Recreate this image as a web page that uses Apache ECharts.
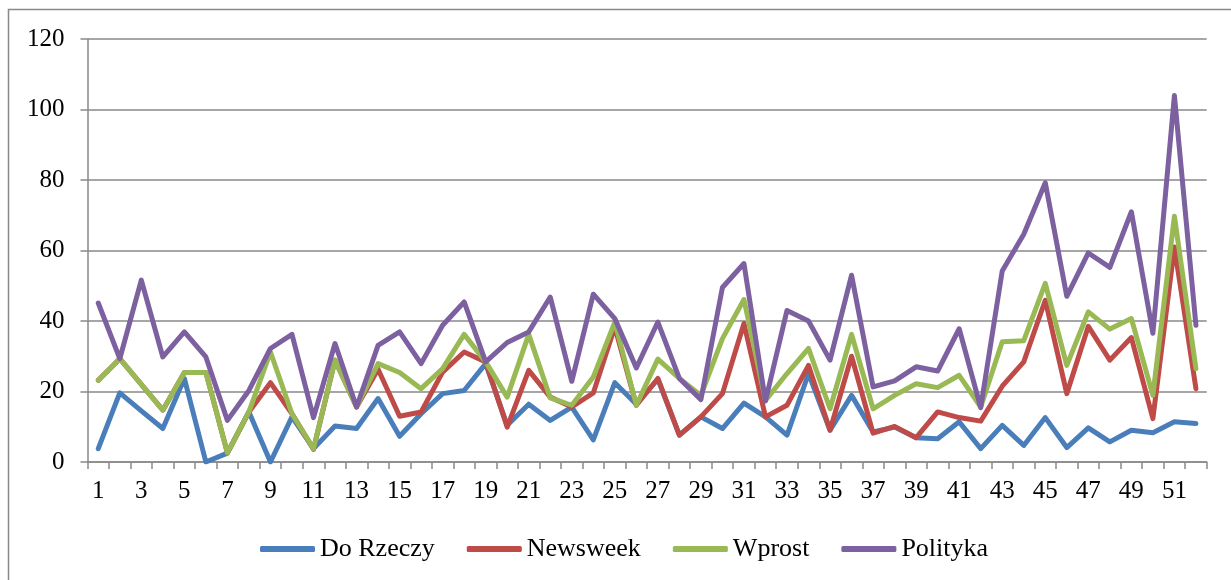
<!DOCTYPE html>
<html>
<head>
<meta charset="utf-8">
<script src="https://cdn.jsdelivr.net/npm/echarts@6/dist/echarts.min.js"></script>
<style>
html,body{margin:0;padding:0;background:#fff;}
#chart{width:1231px;height:580px;}
</style>
</head>
<body>
<div id="chart"></div>
<script>
const categories = Array.from({length: 52}, (_, i) => String(i + 1));
const seriesNames = ['Do Rzeczy', 'Newsweek', 'Wprost', 'Polityka'];
const doRzeczy = [3.8,19.6,14.5,9.5,23.7,0,2.5,14.2,0,12.8,3.8,10.2,9.5,18,7.3,13.7,19.4,20.3,27.9,10.4,16.4,11.8,15.6,6.3,22.5,16.4,23.5,7.6,12.8,9.5,16.7,12.8,7.6,25.1,9.0,18.9,8.5,9.9,6.9,6.6,11.4,3.8,10.4,4.7,12.6,4.1,9.7,5.7,9.0,8.3,11.4,10.9];
const newsweek = [23.2,29.3,22,14.7,25.4,25.4,2.6,14.2,22.5,13.7,3.6,28.9,15.6,26.3,13,14.2,25.5,31.2,28.4,9.9,26,18.4,15.6,19.6,38.3,16.1,23.7,7.6,12.8,19.4,39.3,12.8,16.1,27.4,9.0,30,8.2,10.1,6.9,14.2,12.6,11.6,21.5,28.4,45.9,19.4,38.5,28.9,35.3,12.3,61,20.8];
const wprost = [23.2,29.3,22,14.7,25.4,25.4,2.6,14.2,31.2,13.7,3.8,28.9,15.6,27.9,25.4,20.8,26.5,36.2,28.4,18.4,36.2,18.2,16.1,24.1,39.7,16.1,29.2,23.7,18.9,35,46.1,17.5,25.1,32.2,15.1,36.2,15.1,18.9,22.2,21.1,24.6,15.6,34.1,34.4,50.7,27.4,42.6,37.7,40.7,18.9,69.7,26.5];
const polityka = [45.1,29.3,51.6,29.8,36.9,29.8,11.8,20.3,32.2,36.2,12.6,33.6,15.6,33.1,36.9,27.9,38.8,45.4,28.4,33.9,36.9,46.8,22.9,47.6,40.7,26.7,39.7,23.7,17.7,49.5,56.3,17.3,43,40,28.9,53,21.3,23,27,25.8,37.8,15.4,54.2,64.6,79.2,47,59.3,55.2,71,36.5,104,38.8];
const colors = ['#4A7EBB', '#BE4B48', '#98B954', '#7D60A0'];
const allData = [doRzeczy, newsweek, wprost, polityka];

const FONT = '"Liberation Serif", "Times New Roman", serif';
const chart = echarts.init(document.getElementById('chart'), null, {renderer: 'canvas'});
chart.setOption({
  animation: false,
  backgroundColor: '#ffffff',
  color: colors,
  graphic: [{
    type: 'rect',
    shape: {x: 8.5, y: 9.5, width: 1300, height: 700},
    style: {fill: 'none', stroke: '#898989', lineWidth: 1.5},
    silent: true
  }],
  grid: {left: 87.5, right: 24.3, top: 39, bottom: 118, containLabel: false},
  legend: {
    left: 255,
    top: 531,
    icon: 'roundRect',
    itemWidth: 55,
    itemHeight: 6,
    itemGap: 32,
    textStyle: {fontFamily: FONT, fontSize: 26, color: '#000'},
    data: seriesNames
  },
  xAxis: {
    type: 'category',
    data: categories,
    boundaryGap: true,
    axisLine: {lineStyle: {color: '#898989', width: 1.5}},
    axisTick: {show: true, interval: 0, length: 7, lineStyle: {color: '#898989', width: 1.5}},
    axisLabel: {interval: 1, fontFamily: FONT, fontSize: 25, color: '#000', margin: 17},
    splitLine: {show: false}
  },
  yAxis: {
    type: 'value',
    min: 0, max: 120, interval: 20,
    axisLine: {show: true, lineStyle: {color: '#898989', width: 1.5}},
    axisTick: {show: true, length: 7, lineStyle: {color: '#898989', width: 1.5}},
    axisLabel: {fontFamily: FONT, fontSize: 25, color: '#000', margin: 23},
    splitLine: {show: true, lineStyle: {color: '#898989', width: 1.5}}
  },
  series: seriesNames.map((name, i) => ({
    name: name,
    type: 'line',
    data: allData[i],
    symbol: 'none',
    smooth: false,
    lineStyle: {width: 5, color: colors[i], cap: 'round', join: 'round'},
    itemStyle: {color: colors[i]}
  }))
});
</script>
</body>
</html>
